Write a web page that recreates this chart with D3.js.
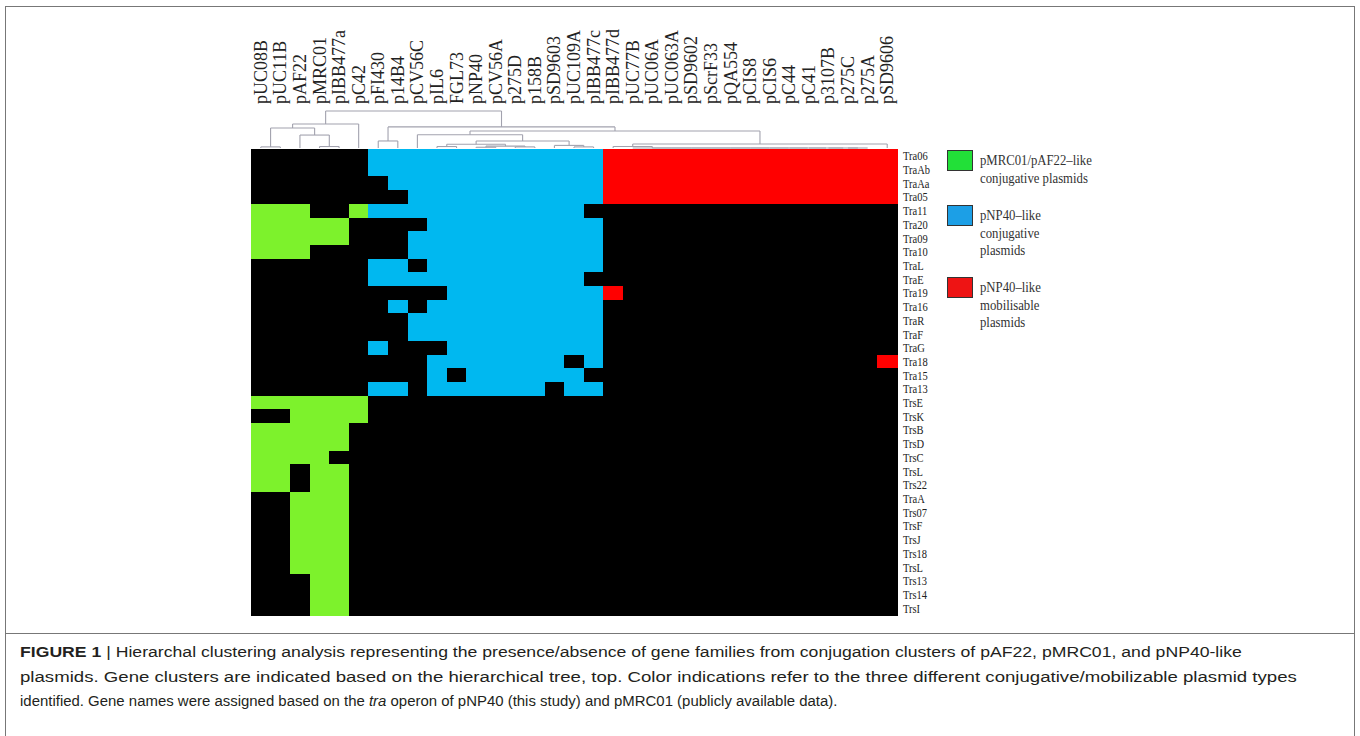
<!DOCTYPE html>
<html>
<head>
<meta charset="utf-8">
<script src="https://cdn.jsdelivr.net/npm/d3@7"></script>
<style>
  body { margin: 0; background: #fff; }
  svg { display: block; }
</style>
</head>
<body>
<div id="chart"></div>
<script>
// ---- Data ----
const plasmids = ["pUC08B", "pUC11B", "pAF22", "pMRC01", "pIBB477a", "pC42",
  "pFI430", "p14B4", "pCV56C", "pIL6", "FGL73", "pNP40", "pCV56A", "p275D", "p158B",
  "pSD9603", "pUC109A", "pIBB477c", "pIBB477d", "pUC77B", "pUC06A", "pUC063A",
  "pSD9602", "pScrF33", "pQA554", "pCIS8", "pCIS6", "pC44", "pC41", "p3107B",
  "p275C", "p275A", "pSD9606"];

// number of plasmids of each type, in column order
const typeCounts = [6, 12, 15];

const genes = ["Tra06", "TraAb", "TraAa", "Tra05", "Tra11", "Tra20", "Tra09", "Tra10",
  "TraL", "TraE", "Tra19", "Tra16", "TraR", "TraF", "TraG", "Tra18", "Tra15", "Tra13",
  "TrsE", "TrsK", "TrsB", "TrsD", "TrsC", "TrsL", "Trs22", "TraA", "Trs07", "TrsF",
  "TrsJ", "Trs18", "TrsL", "Trs13", "Trs14", "TrsI"];

// presence (1) / absence (0), one string per gene, one char per plasmid
const presence = [
  "000000111111111111111111111111111",
  "000000111111111111111111111111111",
  "000000011111111111111111111111111",
  "000000001111111111111111111111111",
  "111001111111111110000000000000000",
  "111110000111111111000000000000000",
  "111110001111111111000000000000000",
  "111000001111111111000000000000000",
  "000000110111111111000000000000000",
  "000000111111111110000000000000000",
  "000000000011111111100000000000000",
  "000000010111111111000000000000000",
  "000000001111111111000000000000000",
  "000000001111111111000000000000000",
  "000000100011111111000000000000000",
  "000000000111111101000000000000001",
  "000000000101111110000000000000000",
  "000000110111111011000000000000000",
  "111111000000000000000000000000000",
  "001111000000000000000000000000000",
  "111110000000000000000000000000000",
  "111110000000000000000000000000000",
  "111100000000000000000000000000000",
  "110110000000000000000000000000000",
  "110110000000000000000000000000000",
  "001110000000000000000000000000000",
  "001110000000000000000000000000000",
  "001110000000000000000000000000000",
  "001110000000000000000000000000000",
  "001110000000000000000000000000000",
  "001110000000000000000000000000000",
  "000110000000000000000000000000000",
  "000110000000000000000000000000000",
  "000110000000000000000000000000000"
];

// dendrogram: [height, child, child]; a number is a plasmid column
const tree =
  [1.0,
    [0.65,
      [0.54, [0.03, 0, 1], [0.35, 2, [0.04, 3, 4]]],
      5],
    [0.57,
      [0.19, 6, 7],
      [0.46,
        [0.36, 8,
          [0.19,
            [0.10, [0.04, 9, 10], [0.05, [0.02, 11, 12], [0.03, 13, 14]]],
            [0.07, 15, [0.03, 16, 17]]]],
        [0.11,
          [0.04, 18, [0, 19, [0, 20, [0, 21, [0, 22, [0, 23, [0, 24, [0, 25,
            [0, 26, [0, 27, [0, 28, [0, 29, [0, 30, 31]]]]]]]]]]]]],
          32]]]];

const legendLines = [
  ["pMRC01/pAF22\u2013like", "conjugative plasmids"],
  ["pNP40\u2013like", "conjugative", "plasmids"],
  ["pNP40\u2013like", "mobilisable", "plasmids"]
];

const caption = [
  [{ t: "FIGURE 1 ", b: true }, { t: "| Hierarchal clustering analysis representing the presence/absence of gene families from conjugation clusters of pAF22, pMRC01, and pNP40-like" }],
  [{ t: "plasmids. Gene clusters are indicated based on the hierarchical tree, top. Color indications refer to the three different conjugative/mobilizable plasmid types" }],
  [{ t: "identified. Gene names were assigned based on the " }, { t: "tra", i: true }, { t: " operon of pNP40 (this study) and pMRC01 (publicly available data)." }]
];
// printed width of each caption line
const captionWidths = [1223, 1278, 818];

// ---- Setup ----
const width = 1360, height = 736;
const cellColors = ["#7df22c", "#00b8f0", "#ff0000"];
const legendColors = ["#22e038", "#1c9fe6", "#ee1414"];
const serif = "'Liberation Serif', 'DejaVu Serif', serif";

const svg = d3.select("#chart").append("svg")
  .attr("width", width)
  .attr("height", height);

// frame around figure and caption
svg.append("rect")
  .attr("x", 5.5).attr("y", 6.5)
  .attr("width", 1349).attr("height", 760)
  .attr("fill", "none").attr("stroke", "#777").attr("stroke-width", 1);
svg.append("line")
  .attr("x1", 5.5).attr("x2", 1354.5).attr("y1", 633.5).attr("y2", 633.5)
  .attr("stroke", "#777");

const x = d3.scaleBand().domain(d3.range(plasmids.length)).range([251, 897]);
const y = d3.scaleBand().domain(d3.range(genes.length)).range([149, 615]);
const hy = d3.scaleLinear().domain([0, 1]).range([148, 111]);

// type index of each column
const colType = [];
typeCounts.forEach((n, t) => { for (let k = 0; k < n; k++) colType.push(t); });

// ---- Heatmap ----
const cells = [];
presence.forEach((row, r) => {
  row.split("").forEach((v, c) => cells.push({ r, c, v: +v }));
});

svg.append("g")
  .attr("shape-rendering", "crispEdges")
  .selectAll("rect")
  .data(cells)
  .enter()
  .append("rect")
  .attr("x", d => x(d.c))
  .attr("y", d => y(d.r))
  .attr("width", x.bandwidth() + 0.6)
  .attr("height", y.bandwidth() + 0.6)
  .attr("fill", d => d.v ? cellColors[colType[d.c]] : "#000");

// ---- Dendrogram ----
const dendro = svg.append("g")
  .attr("fill", "none")
  .attr("stroke", "#a2a2ae")
  .attr("stroke-width", 1.1);

function drawNode(node) {
  if (typeof node === "number") return { x: x(node) + x.bandwidth() / 2, h: 0 };
  const h = node[0];
  const kids = node.slice(1).map(drawNode);
  kids.forEach(k => {
    dendro.append("line")
      .attr("x1", k.x).attr("x2", k.x)
      .attr("y1", hy(k.h)).attr("y2", hy(h));
  });
  dendro.append("line")
    .attr("x1", kids[0].x).attr("x2", kids[kids.length - 1].x)
    .attr("y1", hy(h)).attr("y2", hy(h));
  return { x: (kids[0].x + kids[kids.length - 1].x) / 2, h };
}
drawNode(tree);

// ---- Column labels ----
svg.append("g")
  .selectAll("text")
  .data(plasmids)
  .enter()
  .append("text")
  .attr("transform", (d, i) => `translate(${x(i) + x.bandwidth() / 2 + 6},104) rotate(-90)`)
  .attr("font-family", serif)
  .attr("font-size", 18)
  .attr("fill", "#222")
  .text(d => d);

// ---- Row labels ----
svg.append("g")
  .selectAll("text")
  .data(genes)
  .enter()
  .append("text")
  .attr("transform", (d, i) => `translate(903,${y(i) + y.bandwidth() / 2 + 4.5}) scale(0.84,1)`)
  .attr("font-family", serif)
  .attr("font-size", 12.5)
  .attr("fill", "#222")
  .text(d => d);

// ---- Legend ----
const legendTop = [150, 205, 277];

const leg = svg.append("g");
legendLines.forEach((lines, i) => {
  leg.append("rect")
    .attr("x", 947.5).attr("y", legendTop[i] + 0.5)
    .attr("width", 25).attr("height", 20)
    .attr("fill", legendColors[i])
    .attr("stroke", "#333").attr("stroke-width", 1);
  lines.forEach((s, j) => {
    leg.append("text")
      .attr("transform", `translate(980,${legendTop[i] + 15 + j * 17.5}) scale(0.85,1)`)
      .attr("font-family", serif)
      .attr("font-size", 15)
      .attr("fill", "#333")
      .text(s);
  });
});

// ---- Caption ----
caption.forEach((parts, i) => {
  const t = svg.append("text")
    .attr("x", 0)
    .attr("y", 0)
    .attr("font-family", "'Liberation Sans', Arial, sans-serif")
    .attr("font-size", 15.5)
    .attr("fill", "#231f20");
  parts.forEach(p => {
    t.append("tspan")
      .attr("font-weight", p.b ? "bold" : null)
      .attr("font-style", p.i ? "italic" : null)
      .text(p.t);
  });
  // squeeze each line so it ends where it does in print
  const w = t.node().getComputedTextLength();
  t.attr("transform", `translate(20,${657 + i * 24.5}) scale(${captionWidths[i] / w},1)`);
});
</script>
</body>
</html>
